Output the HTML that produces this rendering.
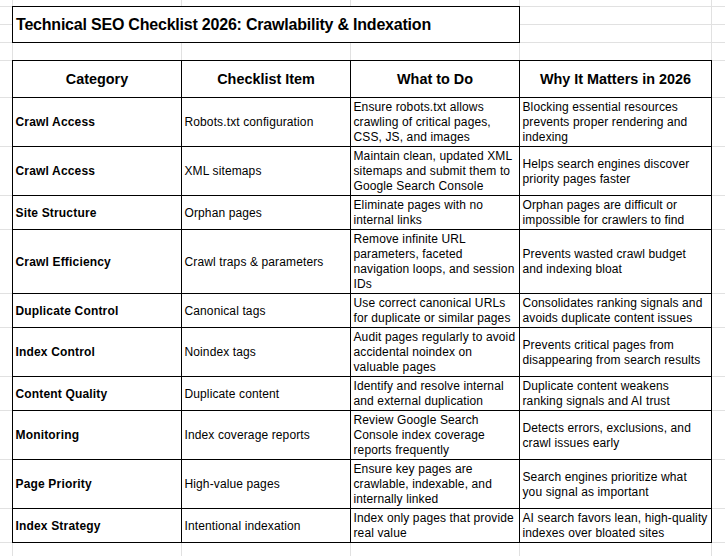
<!DOCTYPE html>
<html lang="en"><head><meta charset="utf-8"><title>Technical SEO Checklist 2026</title>
<style>
html,body{margin:0;padding:0;background:#fff;}
body{width:725px;height:556px;position:relative;overflow:hidden;font-family:"Liberation Sans",sans-serif;color:#000;}
.g{position:absolute;background:#e1e1e1;}
.k{position:absolute;background:#000;}
.w{position:absolute;background:#fff;}
.c{position:absolute;display:flex;flex-direction:column;justify-content:center;box-sizing:border-box;white-space:nowrap;font-size:12px;line-height:15px;letter-spacing:0.12px;padding-left:2.5px;}
.c div{position:relative;top:0.5px;}
.b{font-weight:bold;font-size:12px;letter-spacing:0.17px;}
.h{font-weight:bold;font-size:14.4px;letter-spacing:0px;align-items:center;padding-left:0;}
.h div{top:0px;}
.t{font-weight:bold;font-size:16px;letter-spacing:-0.21px;padding-left:3px;}
.t div{top:0px;}
</style></head><body>

<div class="g" style="left:12px;top:0;width:1px;height:556px"></div>
<div class="g" style="left:181px;top:0;width:1px;height:556px"></div>
<div class="g" style="left:350px;top:0;width:1px;height:556px"></div>
<div class="g" style="left:519px;top:0;width:1px;height:556px"></div>
<div class="g" style="left:711px;top:0;width:1px;height:556px"></div>
<div class="g" style="left:0;top:6px;width:725px;height:1px"></div>
<div class="g" style="left:0;top:24px;width:725px;height:1px"></div>
<div class="g" style="left:0;top:42px;width:725px;height:1px"></div>
<div class="g" style="left:0;top:60px;width:725px;height:1px"></div>
<div class="g" style="left:0;top:97px;width:725px;height:1px"></div>
<div class="g" style="left:0;top:146px;width:725px;height:1px"></div>
<div class="g" style="left:0;top:195px;width:725px;height:1px"></div>
<div class="g" style="left:0;top:229px;width:725px;height:1px"></div>
<div class="g" style="left:0;top:293px;width:725px;height:1px"></div>
<div class="g" style="left:0;top:327px;width:725px;height:1px"></div>
<div class="g" style="left:0;top:376px;width:725px;height:1px"></div>
<div class="g" style="left:0;top:410px;width:725px;height:1px"></div>
<div class="g" style="left:0;top:459px;width:725px;height:1px"></div>
<div class="g" style="left:0;top:508px;width:725px;height:1px"></div>
<div class="g" style="left:0;top:542px;width:725px;height:1px"></div>
<div class="w" style="left:12px;top:6px;width:508px;height:37px"></div>
<div class="k" style="left:12px;top:6px;width:508px;height:1px"></div>
<div class="k" style="left:12px;top:42px;width:508px;height:1px"></div>
<div class="k" style="left:12px;top:6px;width:1px;height:37px"></div>
<div class="k" style="left:519px;top:6px;width:1px;height:37px"></div>
<div class="c t" style="left:13px;top:7px;width:506px;height:35px"><div>Technical SEO Checklist 2026: Crawlability &amp; Indexation</div></div>
<div class="w" style="left:12px;top:60px;width:700px;height:483px"></div>
<div class="k" style="left:12px;top:60px;width:1px;height:483px"></div>
<div class="k" style="left:181px;top:60px;width:1px;height:483px"></div>
<div class="k" style="left:350px;top:60px;width:1px;height:483px"></div>
<div class="k" style="left:519px;top:60px;width:1px;height:483px"></div>
<div class="k" style="left:711px;top:60px;width:1px;height:483px"></div>
<div class="k" style="left:12px;top:60px;width:700px;height:1px"></div>
<div class="k" style="left:12px;top:97px;width:700px;height:1px"></div>
<div class="k" style="left:12px;top:146px;width:700px;height:1px"></div>
<div class="k" style="left:12px;top:195px;width:700px;height:1px"></div>
<div class="k" style="left:12px;top:229px;width:700px;height:1px"></div>
<div class="k" style="left:12px;top:293px;width:700px;height:1px"></div>
<div class="k" style="left:12px;top:327px;width:700px;height:1px"></div>
<div class="k" style="left:12px;top:376px;width:700px;height:1px"></div>
<div class="k" style="left:12px;top:410px;width:700px;height:1px"></div>
<div class="k" style="left:12px;top:459px;width:700px;height:1px"></div>
<div class="k" style="left:12px;top:508px;width:700px;height:1px"></div>
<div class="k" style="left:12px;top:542px;width:700px;height:1px"></div>
<div class="c h" style="left:13px;top:61px;width:168px;height:36px"><div>Category</div></div>
<div class="c h" style="left:182px;top:61px;width:168px;height:36px"><div>Checklist Item</div></div>
<div class="c h" style="left:351px;top:61px;width:168px;height:36px"><div>What to Do</div></div>
<div class="c h" style="left:520px;top:61px;width:191px;height:36px"><div>Why It Matters in 2026</div></div>
<div class="c b" style="left:13px;top:98px;width:168px;height:48px"><div>Crawl Access</div></div>
<div class="c" style="left:182px;top:98px;width:168px;height:48px"><div>Robots.txt configuration</div></div>
<div class="c" style="left:351px;top:98px;width:168px;height:48px"><div>Ensure robots.txt allows</div><div>crawling of critical pages,</div><div>CSS, JS, and images</div></div>
<div class="c" style="left:520px;top:98px;width:191px;height:48px"><div>Blocking essential resources</div><div>prevents proper rendering and</div><div>indexing</div></div>
<div class="c b" style="left:13px;top:147px;width:168px;height:48px"><div>Crawl Access</div></div>
<div class="c" style="left:182px;top:147px;width:168px;height:48px"><div>XML sitemaps</div></div>
<div class="c" style="left:351px;top:147px;width:168px;height:48px"><div>Maintain clean, updated XML</div><div>sitemaps and submit them to</div><div>Google Search Console</div></div>
<div class="c" style="left:520px;top:147px;width:191px;height:48px"><div>Helps search engines discover</div><div>priority pages faster</div></div>
<div class="c b" style="left:13px;top:196px;width:168px;height:33px"><div>Site Structure</div></div>
<div class="c" style="left:182px;top:196px;width:168px;height:33px"><div>Orphan pages</div></div>
<div class="c" style="left:351px;top:196px;width:168px;height:33px"><div>Eliminate pages with no</div><div>internal links</div></div>
<div class="c" style="left:520px;top:196px;width:191px;height:33px"><div>Orphan pages are difficult or</div><div>impossible for crawlers to find</div></div>
<div class="c b" style="left:13px;top:230px;width:168px;height:63px"><div>Crawl Efficiency</div></div>
<div class="c" style="left:182px;top:230px;width:168px;height:63px"><div>Crawl traps &amp; parameters</div></div>
<div class="c" style="left:351px;top:230px;width:168px;height:63px"><div>Remove infinite URL</div><div>parameters, faceted</div><div>navigation loops, and session</div><div>IDs</div></div>
<div class="c" style="left:520px;top:230px;width:191px;height:63px"><div>Prevents wasted crawl budget</div><div>and indexing bloat</div></div>
<div class="c b" style="left:13px;top:294px;width:168px;height:33px"><div>Duplicate Control</div></div>
<div class="c" style="left:182px;top:294px;width:168px;height:33px"><div>Canonical tags</div></div>
<div class="c" style="left:351px;top:294px;width:168px;height:33px"><div>Use correct canonical URLs</div><div>for duplicate or similar pages</div></div>
<div class="c" style="left:520px;top:294px;width:191px;height:33px"><div>Consolidates ranking signals and</div><div>avoids duplicate content issues</div></div>
<div class="c b" style="left:13px;top:328px;width:168px;height:48px"><div>Index Control</div></div>
<div class="c" style="left:182px;top:328px;width:168px;height:48px"><div>Noindex tags</div></div>
<div class="c" style="left:351px;top:328px;width:168px;height:48px"><div>Audit pages regularly to avoid</div><div>accidental noindex on</div><div>valuable pages</div></div>
<div class="c" style="left:520px;top:328px;width:191px;height:48px"><div>Prevents critical pages from</div><div>disappearing from search results</div></div>
<div class="c b" style="left:13px;top:377px;width:168px;height:33px"><div>Content Quality</div></div>
<div class="c" style="left:182px;top:377px;width:168px;height:33px"><div>Duplicate content</div></div>
<div class="c" style="left:351px;top:377px;width:168px;height:33px"><div>Identify and resolve internal</div><div>and external duplication</div></div>
<div class="c" style="left:520px;top:377px;width:191px;height:33px"><div>Duplicate content weakens</div><div>ranking signals and AI trust</div></div>
<div class="c b" style="left:13px;top:411px;width:168px;height:48px"><div>Monitoring</div></div>
<div class="c" style="left:182px;top:411px;width:168px;height:48px"><div>Index coverage reports</div></div>
<div class="c" style="left:351px;top:411px;width:168px;height:48px"><div>Review Google Search</div><div>Console index coverage</div><div>reports frequently</div></div>
<div class="c" style="left:520px;top:411px;width:191px;height:48px"><div>Detects errors, exclusions, and</div><div>crawl issues early</div></div>
<div class="c b" style="left:13px;top:460px;width:168px;height:48px"><div>Page Priority</div></div>
<div class="c" style="left:182px;top:460px;width:168px;height:48px"><div>High-value pages</div></div>
<div class="c" style="left:351px;top:460px;width:168px;height:48px"><div>Ensure key pages are</div><div>crawlable, indexable, and</div><div>internally linked</div></div>
<div class="c" style="left:520px;top:460px;width:191px;height:48px"><div>Search engines prioritize what</div><div>you signal as important</div></div>
<div class="c b" style="left:13px;top:509px;width:168px;height:33px"><div>Index Strategy</div></div>
<div class="c" style="left:182px;top:509px;width:168px;height:33px"><div>Intentional indexation</div></div>
<div class="c" style="left:351px;top:509px;width:168px;height:33px"><div>Index only pages that provide</div><div>real value</div></div>
<div class="c" style="left:520px;top:509px;width:191px;height:33px"><div>AI search favors lean, high-quality</div><div>indexes over bloated sites</div></div>
</body></html>
